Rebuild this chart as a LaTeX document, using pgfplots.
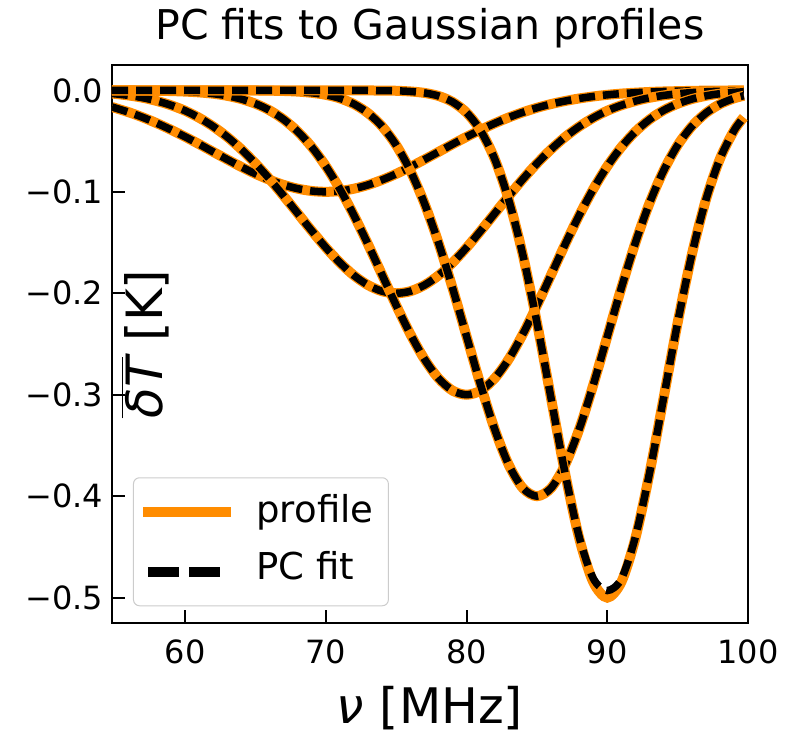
\documentclass[border=0pt]{standalone}
\usepackage{fontspec}
\setmainfont{DejaVu Sans}
\usepackage{pgfplots}
\pgfplotsset{compat=1.18}
\usepackage{pgfplotstable}
\definecolor{prof}{RGB}{255,140,0}

\pgfplotstableread{
nu    c1      c2      c3      c4      c5      f5
54.8  -0.0164 -0.0031 0       0       0       0
56    -0.0216 -0.0050 -0.0001 0       0       0
57    -0.0267 -0.0073 -0.0002 0       0       0
58    -0.0325 -0.0105 -0.0004 0       0       0
59    -0.0389 -0.0147 -0.0007 0       0       0
60    -0.0458 -0.0201 -0.0012 0       0       0
61    -0.0531 -0.0271 -0.0020 0       0       0
62    -0.0607 -0.0357 -0.0033 0       0       0
63    -0.0682 -0.0460 -0.0054 0       0       0
64    -0.0755 -0.0582 -0.0086 0       0       0
65    -0.0823 -0.0721 -0.0132 -0.0001 0       0
66    -0.0882 -0.0875 -0.0197 -0.0003 0       0
67    -0.0932 -0.1041 -0.0287 -0.0006 0       0
68    -0.0969 -0.1213 -0.0406 -0.0012 0       0
69    -0.0992 -0.1385 -0.0559 -0.0024 0       0
70    -0.1000 -0.1550 -0.0748 -0.0044 0       0
71    -0.0992 -0.1699 -0.0974 -0.0079 0       0
72    -0.0969 -0.1825 -0.1233 -0.0136 0       0
73    -0.0932 -0.1920 -0.1519 -0.0225 -0.0001 -0.0001
74    -0.0882 -0.1980 -0.1820 -0.0356 -0.0002 -0.0002
75    -0.0823 -0.2000 -0.2120 -0.0541 -0.0004 -0.0004
76    -0.0755 -0.1980 -0.2402 -0.0792 -0.0011 -0.0011
77    -0.0682 -0.1920 -0.2648 -0.1112 -0.0025 -0.0025
78    -0.0607 -0.1825 -0.2838 -0.1501 -0.0055 -0.0055
79    -0.0531 -0.1699 -0.2959 -0.1947 -0.0114 -0.0114
80    -0.0458 -0.1550 -0.3000 -0.2426 -0.0220 -0.0220
81    -0.0389 -0.1385 -0.2959 -0.2905 -0.0398 -0.0398
82    -0.0325 -0.1213 -0.2838 -0.3341 -0.0677 -0.0677
83    -0.0267 -0.1041 -0.2648 -0.3692 -0.1082 -0.1082
84    -0.0216 -0.0875 -0.2402 -0.3921 -0.1623 -0.1623
85    -0.0172 -0.0721 -0.2120 -0.4000 -0.2289 -0.2289
86    -0.0135 -0.0582 -0.1820 -0.3921 -0.3033 -0.3033
87    -0.0105 -0.0460 -0.1519 -0.3692 -0.3774 -0.3774
88    -0.0080 -0.0357 -0.1233 -0.3341 -0.4412 -0.4400
89    -0.0060 -0.0271 -0.0974 -0.2905 -0.4846 -0.4810
90    -0.0044 -0.0201 -0.0748 -0.2426 -0.5000 -0.4930
91    -0.0032 -0.0147 -0.0559 -0.1947 -0.4846 -0.4815
92    -0.0023 -0.0105 -0.0406 -0.1501 -0.4412 -0.4400
93    -0.0016 -0.0073 -0.0287 -0.1112 -0.3774 -0.3774
94    -0.0011 -0.0050 -0.0197 -0.0792 -0.3033 -0.3033
95    -0.0008 -0.0034 -0.0132 -0.0541 -0.2289 -0.2289
96    -0.0005 -0.0022 -0.0086 -0.0356 -0.1623 -0.1623
97    -0.0003 -0.0014 -0.0054 -0.0225 -0.1082 -0.1082
98    -0.0002 -0.0009 -0.0033 -0.0136 -0.0677 -0.0677
99    -0.0001 -0.0006 -0.0020 -0.0079 -0.0398 -0.0398
99.7  -0.0001 -0.0004 -0.0014 -0.0053 -0.0265 -0.0265
}\data

\begin{document}
\begin{tikzpicture}
\useasboundingbox (-56bp,-55.5bp) rectangle (337.5bp,311.5bp);
\begin{axis}[
  at={(0,0)}, anchor=south west,
  scale only axis, width=318bp, height=279bp,
  xmin=54.8, xmax=100, ymin=-0.525, ymax=0.025,
  xtick={60,70,80,90,100}, xticklabels={60,70,80,90,100},
  ytick={-0.5,-0.4,-0.3,-0.2,-0.1,0},
  yticklabels={−0.5,−0.4,−0.3,−0.2,−0.1,0.0},
  tick align=inside, xtick pos=bottom, ytick pos=left,
  major tick length=6.5bp,
  tick style={black, line width=1bp},
  axis line style={black, line width=1.25bp},
  ticklabel style={font=\fontsize{16bp}{19bp}\selectfont},
  xticklabel style={anchor=base, yshift=-20bp},
  yticklabel style={anchor=east, xshift=-1bp},
  title={PC fits to Gaussian profiles},
  title style={font=\fontsize{20.5bp}{24bp}\selectfont, at={(0.5,1)}, anchor=base, yshift=7bp},
  xlabel={{\itshape ν} [MHz]},
  xlabel style={font=\fontsize{24.5bp}{28bp}\selectfont, at={(0.5,0)}, anchor=base, yshift=-50bp},
  legend cell align=left,
  legend style={at={(0.033,0.03)}, anchor=south west, draw=black!20, line width=0.5bp,
    rounded corners=3bp, fill=white, font=\fontsize{18.5bp}{22bp}\selectfont,
    inner xsep=7.5bp, inner ysep=8.5bp, row sep=10bp, column sep=15bp,
    nodes={inner sep=0bp, text height=14bp, text depth=4.5bp}},
  profile/.style={prof, line width=5bp, smooth},
  fit/.style={black, line width=3.75bp, dash pattern=on 8bp off 4bp, smooth},
]
\addplot[profile, legend image code/.code={\draw[prof, line width=5bp, line cap=rect, transform canvas={yshift=0.7bp}] (0bp,0bp) -- (39bp,0bp);}] table[x=nu,y=c1] {\data};
\addlegendentry{profile\hspace{20bp}}
\addplot[fit, legend image code/.code={\draw[black, line width=5bp, dash pattern=on 15.5bp off 5bp, transform canvas={yshift=-1bp}] (0bp,0bp) -- (39bp,0bp);}] table[x=nu,y=c1] {\data};
\addlegendentry{PC fit}
\addplot[profile, forget plot] table[x=nu,y=c2] {\data};
\addplot[fit, forget plot] table[x=nu,y=c2] {\data};
\addplot[profile, forget plot] table[x=nu,y=c3] {\data};
\addplot[fit, forget plot] table[x=nu,y=c3] {\data};
\addplot[profile, forget plot] table[x=nu,y=c4] {\data};
\addplot[fit, forget plot] table[x=nu,y=c4] {\data};
\addplot[profile, forget plot] table[x=nu,y=c5] {\data};
\addplot[fit, forget plot] table[x=nu,y=f5] {\data};
\node[rotate=90, font=\fontsize{25bp}{28bp}\selectfont] at (rel axis cs:0.052,0.50) {$\overline{\mbox{\itshape δT}}$ [K]};
\end{axis}
\end{tikzpicture}
\end{document}
